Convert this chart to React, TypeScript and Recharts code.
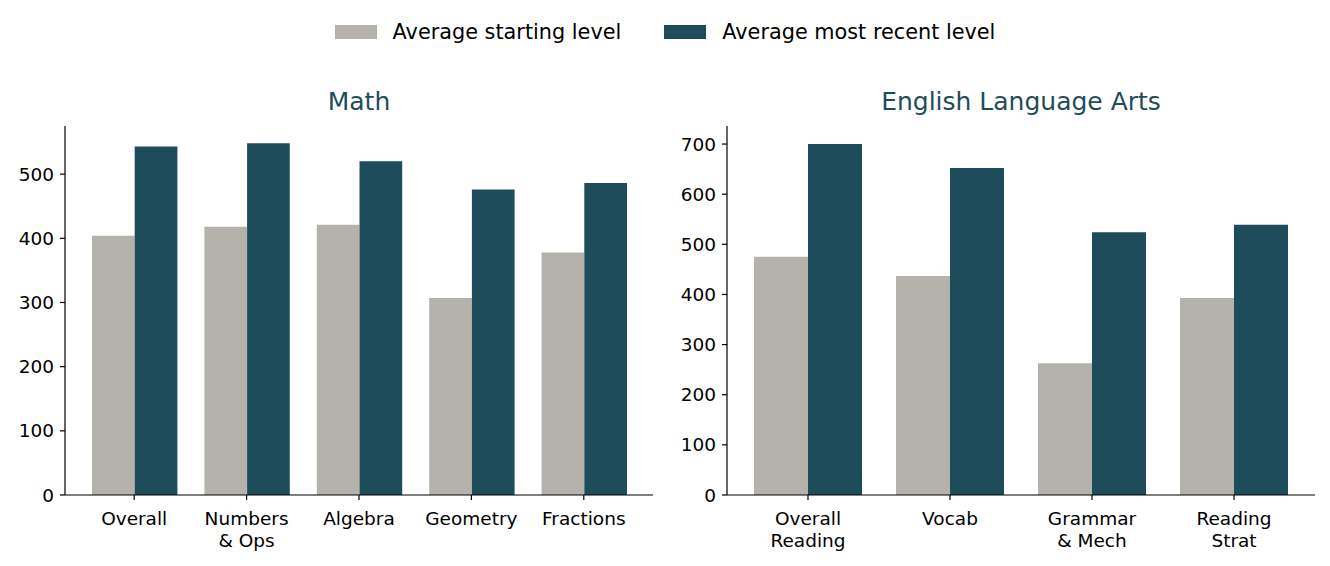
import React from "react";
import { BarChart, Bar, XAxis, YAxis } from "recharts";

const seriesNames = ["Average starting level", "Average most recent level"];
const seriesColors = ["#b5b2ab", "#1f4c5b"];

const mathCategories = ["Overall", "Numbers\n& Ops", "Algebra", "Geometry", "Fractions"];
const mathStart = [404, 418, 421, 307, 378];
const mathRecent = [543, 548, 520, 476, 486];
const mathTicks = [0, 100, 200, 300, 400, 500];

const elaCategories = ["Overall\nReading", "Vocab", "Grammar\n& Mech", "Reading\nStrat"];
const elaStart = [475, 437, 263, 393];
const elaRecent = [700, 652, 524, 539];
const elaTicks = [0, 100, 200, 300, 400, 500, 600, 700];

const FONT = "'DejaVu Sans', sans-serif";
const TICK_FONT = 18.5;

const build = (cats: string[], a: number[], b: number[]) =>
  cats.map((c, i) => ({ cat: c, start: a[i], recent: b[i] }));

const mathData = build(mathCategories, mathStart, mathRecent);
const elaData = build(elaCategories, elaStart, elaRecent);

const MultiLineTick = (props: any) => {
  const { x, y, payload } = props;
  const lines = String(payload.value).split("\n");
  return (
    <text
      x={x}
      y={y}
      textAnchor="middle"
      fill="#000"
      fontSize={TICK_FONT}
      fontFamily={FONT}
    >
      {lines.map((l, i) => (
        <tspan key={i} x={x} dy={i === 0 ? "0.76em" : "1.2em"}>
          {l}
        </tspan>
      ))}
    </text>
  );
};

type PanelProps = {
  data: any[];
  ticks: number[];
  domainMax: number;
  barSize: number;
  padX: number;
  left: number;
  marginLeft: number;
  marginRight: number;
};

const Panel = ({ data, ticks, domainMax, barSize, padX, left, marginLeft, marginRight }: PanelProps) => (
  <div style={{ position: "absolute", left, top: 0 }}>
    <BarChart
      width={665}
      height={566}
      data={data}
      margin={{ top: 126, right: marginRight, bottom: 21, left: marginLeft }}
      barGap={0}
    >
      <XAxis
        dataKey="cat"
        height={50}
        padding={{ left: padX, right: padX }}
        axisLine={{ stroke: "#000", strokeWidth: 1.2 }}
        tickLine={{ stroke: "#000", strokeWidth: 1.2 }}
        tickSize={5}
        tickMargin={11}
        interval={0}
        tick={<MultiLineTick />}
      />
      <YAxis
        width={40}
        domain={[0, domainMax]}
        ticks={ticks}
        interval={0}
        axisLine={{ stroke: "#000", strokeWidth: 1.2 }}
        tickLine={{ stroke: "#000", strokeWidth: 1.2 }}
        tickSize={5}
        tickMargin={6}
        tick={{ fill: "#000", fontSize: TICK_FONT, fontFamily: FONT }}
      />
      <Bar dataKey="start" name={seriesNames[0]} fill={seriesColors[0]} barSize={barSize} isAnimationActive={false} />
      <Bar dataKey="recent" name={seriesNames[1]} fill={seriesColors[1]} barSize={barSize} isAnimationActive={false} />
    </BarChart>
  </div>
);

export default function App() {
  return (
    <div
      style={{
        position: "absolute",
        left: 0,
        top: 0,
        width: 1330,
        height: 566,
        background: "#fff",
        fontFamily: FONT,
        overflow: "hidden",
      }}
    >
      <div
        style={{
          position: "absolute",
          left: 0,
          top: 20,
          width: 1330,
          height: 24,
          display: "flex",
          justifyContent: "center",
          alignItems: "center",
          fontSize: 20.8,
          lineHeight: "24px",
          color: "#000",
        }}
      >
        {seriesNames.map((n, i) => (
          <div key={n} style={{ display: "flex", alignItems: "center", marginLeft: i === 0 ? 0 : 43 }}>
            <div style={{ width: 42, height: 14, background: seriesColors[i], marginRight: 16 }} />
            <span>{n}</span>
          </div>
        ))}
      </div>
      <div
        style={{
          position: "absolute",
          left: 65,
          width: 588,
          top: 87,
          lineHeight: "30px",
          textAlign: "center",
          fontSize: 25,
          color: "#1f4c5b",
        }}
      >
        Math
      </div>
      <div
        style={{
          position: "absolute",
          left: 727,
          width: 588,
          top: 87,
          lineHeight: "30px",
          textAlign: "center",
          fontSize: 25,
          color: "#1f4c5b",
        }}
      >
        English Language Arts
      </div>
      <Panel
        data={mathData}
        ticks={mathTicks}
        domainMax={575}
        barSize={42.7}
        padX={13}
        left={0}
        marginLeft={25}
        marginRight={12}
      />
      <Panel
        data={elaData}
        ticks={elaTicks}
        domainMax={736}
        barSize={54}
        padX={10}
        left={665}
        marginLeft={22}
        marginRight={15}
      />
    </div>
  );
}
